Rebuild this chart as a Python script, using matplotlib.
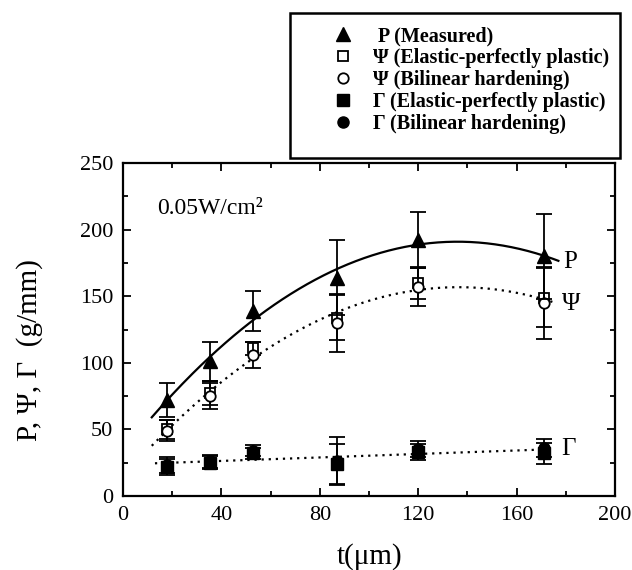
import matplotlib
matplotlib.use('Agg')
import matplotlib.pyplot as plt
from matplotlib.lines import Line2D
from matplotlib.patches import Rectangle
import numpy as np

plt.rcParams['font.family'] = ['Liberation Serif', 'DejaVu Serif']

# thickness t (um) of the film
t = [17.8, 35.4, 53.0, 86.9, 120.0, 171.0]

# P (measured)
p_val = [72, 101, 139, 164, 192, 180]
p_err = [13, 15, 15, 28, 21, 32]

# Psi, elastic-perfectly plastic / bilinear hardening
psi_epp = [50, 77, 111, 134, 160, 149]
psi_epp_err = [7, 9, 5, 17, 12, 22]
psi_bh = [49, 75, 106, 130, 157, 145]
psi_bh_err = [8, 10, 10, 22, 14, 27]

# Gamma, elastic-perfectly plastic / bilinear hardening
gam_epp = [22, 25, 32, 24, 33, 32]
gam_epp_err = [6, 5, 4, 15, 6, 8]
gam_bh = [23, 26, 34, 26, 35, 36]
gam_bh_err = [6, 5, 4, 18, 6, 7]

# range of the fitted trend curves
fit_range = {'P': (11.7, 177), 'Psi': (11.7, 176), 'Gamma': (13, 173.6)}

fig = plt.figure(figsize=(6.32, 5.70), dpi=100)
ax = fig.add_axes([0.1946, 0.1298, 0.7784, 0.5842])

# trend curves (least squares fits of the data)
tt = np.array(t * 2)
c_p = np.polyfit(t, p_val, 2)
c_psi = np.polyfit(tt, psi_epp + psi_bh, 2)
c_gam = np.polyfit(tt, gam_epp + gam_bh, 1)

x = np.linspace(*fit_range['P'], 200)
ax.plot(x, np.polyval(c_p, x), color='k', lw=1.6, zorder=2)
x = np.linspace(*fit_range['Psi'], 200)
ax.plot(x, np.polyval(c_psi, x), color='k', lw=1.6, ls=(0, (1, 2.2)), zorder=2)
x = np.linspace(*fit_range['Gamma'], 200)
ax.plot(x, np.polyval(c_gam, x), color='k', lw=1.6, ls=(0, (1, 2.2)), zorder=2)

eb = dict(color='k', ecolor='k', elinewidth=1.3, capsize=6, capthick=1.3, ls='none')
ax.errorbar(t, psi_epp, yerr=psi_epp_err, fmt='s', ms=7, mfc='white', mec='k', mew=1.3, zorder=3, **eb)
ax.errorbar(t, psi_bh, yerr=psi_bh_err, fmt='o', ms=7.5, mfc='white', mec='k', mew=1.3, zorder=4, **eb)
ax.errorbar(t, gam_epp, yerr=gam_epp_err, fmt='s', ms=8, mfc='k', mec='k', zorder=3, **eb)
ax.errorbar(t, gam_bh, yerr=gam_bh_err, fmt='o', ms=8, mfc='k', mec='k', zorder=4, **eb)
ax.errorbar(t, p_val, yerr=p_err, fmt='^', ms=9.5, mfc='k', mec='k', zorder=5, **eb)

# curve labels
ax.text(179, 176, 'P', fontsize=18, ha='left', va='center')
ax.text(178.5, 144, 'Ψ', fontsize=18, ha='left', va='center')
ax.text(178, 35.5, 'Γ', fontsize=18, ha='left', va='center')
ax.text(14, 216, '0.05W/cm²', fontsize=17, ha='left', va='center')

ax.set_xlim(0, 200)
ax.set_ylim(0, 250)
ax.set_xticks(np.arange(0, 201, 40))
ax.set_xticks(np.arange(0, 201, 20), minor=True)
ax.set_yticks(np.arange(0, 251, 50))
ax.set_yticks(np.arange(0, 251, 25), minor=True)
ax.tick_params(which='both', direction='in', top=True, right=True, labelsize=16, width=1.3)
ax.tick_params(which='major', length=6, pad=7)
ax.tick_params(which='minor', length=3.5)
for s in ax.spines.values():
    s.set_linewidth(1.6)

fig.text(30 / 632, 1 - 350 / 570, 'P, Ψ, Γ  (g/mm)', rotation=90,
         fontsize=21, ha='center', va='center')
fig.text(370 / 632, 1 - 557 / 570, 't(μm)', fontsize=21, ha='center', va='center')

# legend box above the axes
handles = [
    Line2D([], [], ls='none', marker='^', ms=9.5, mfc='k', mec='k'),
    Line2D([], [], ls='none', marker='s', ms=7, mfc='white', mec='k', mew=1.3),
    Line2D([], [], ls='none', marker='o', ms=7.5, mfc='white', mec='k', mew=1.3),
    Line2D([], [], ls='none', marker='s', ms=8, mfc='k', mec='k'),
    Line2D([], [], ls='none', marker='o', ms=8, mfc='k', mec='k'),
]
labels = [' P (Measured)', 'Ψ (Elastic-perfectly plastic)', 'Ψ (Bilinear hardening)',
          'Γ (Elastic-perfectly plastic)', 'Γ (Bilinear hardening)']
fig.legend(handles, labels, loc='upper left', bbox_to_anchor=(323 / 632, 1 - 16 / 570),
           frameon=False, prop={'weight': 'bold', 'size': 14.5}, handlelength=1,
           handletextpad=1.0, labelspacing=0.1, borderpad=0)
fig.add_artist(Rectangle((290 / 632, 1 - 158 / 570), 330 / 632, 145 / 570,
                         transform=fig.transFigure, fill=False, lw=1.8, ec='k'))

fig.savefig('out.png', dpi=100)
